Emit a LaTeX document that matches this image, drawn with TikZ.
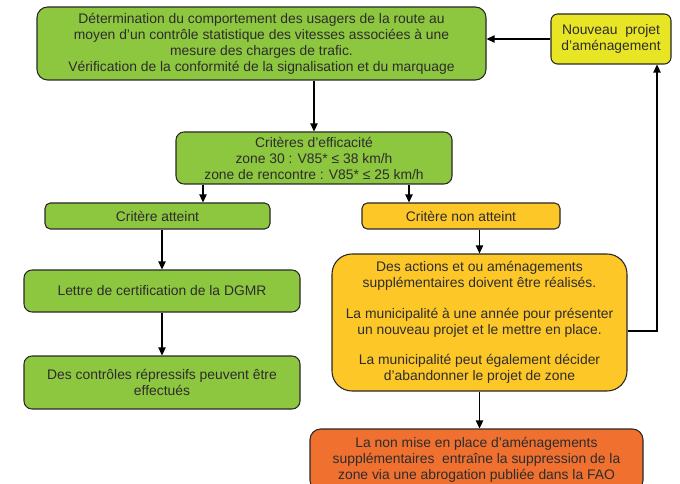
\documentclass[tikz,border=0pt]{standalone}
\usepackage{fontspec}
\setmainfont{Liberation Sans}
\usetikzlibrary{arrows.meta,calc}
\definecolor{cgreen}{RGB}{141,198,63}
\definecolor{cyel}{RGB}{232,230,36}
\definecolor{cgold}{RGB}{253,199,40}
\definecolor{corange}{RGB}{240,112,48}
\definecolor{cline}{RGB}{40,40,40}
\definecolor{ctext}{RGB}{45,45,45}
\definecolor{carrow}{RGB}{0,0,0}
\tikzset{
  box/.style={draw=cline, line width=0.8pt, rounded corners=5pt, align=center,
    inner sep=0pt, text=ctext, font=\fontsize{10.4}{12}\selectfont},
  arr/.style={carrow, line width=0.9pt, -{Triangle[length=6pt,width=5.5pt]}}
}
\begin{document}
\begin{tikzpicture}[x=0.75pt,y=-0.75pt]
\useasboundingbox (0,0) rectangle (680,484);
\node[box, fill=cgreen, rounded corners=8pt, minimum width=449*0.75pt, minimum height=73*0.75pt] (top) at (261.5,43.5)
  {Détermination du comportement des usagers de la route au\\moyen d’un contrôle statistique des vitesses associées à une\\mesure des charges de trafic.\\Vérification de la conformité de la signalisation et du marquage};
\node[box, fill=cyel, minimum width=120*0.75pt, minimum height=50*0.75pt] (nouv) at (611,39)
  {Nouveau\ \ projet\\d’aménagement};
\node[box, fill=cgreen, rounded corners=6pt, minimum width=276*0.75pt, minimum height=52*0.75pt] (crit) at (314,158)
  {Critères d’efficacité\\zone 30 : V85* ≤ 38 km/h\\zone de rencontre : V85* ≤ 25 km/h};
\node[box, fill=cgreen, rounded corners=4pt, minimum width=225*0.75pt, minimum height=26*0.75pt] (att) at (157.5,216)
  {Critère atteint};
\node[box, fill=cgold, rounded corners=4pt, minimum width=198*0.75pt, minimum height=26*0.75pt] (natt) at (461,216)
  {Critère non atteint};
\node[box, fill=cgreen, rounded corners=6pt, minimum width=276*0.75pt, minimum height=42*0.75pt] (lettre) at (162,291)
  {Lettre de certification de la DGMR};
\node[box, fill=cgreen, rounded corners=6pt, minimum width=276*0.75pt, minimum height=53*0.75pt] (ctrl) at (162,382.5)
  {Des contrôles répressifs peuvent être\\effectués};
\node[box, fill=cgold, rounded corners=15pt, minimum width=295*0.75pt, minimum height=137*0.75pt] (big) at (479.5,322.5)
  {Des actions et ou aménagements\\supplémentaires doivent être réalisés.\\[11pt]La municipalité à une année pour présenter\\un nouveau projet et le mettre en place.\\[11pt]La municipalité peut également décider\\d’abandonner le projet de zone};
\node[box, fill=corange, rounded corners=8pt, minimum width=333*0.75pt, minimum height=62*0.75pt] (orange) at (476.5,460)
  {La non mise en place d’aménagements\\supplémentaires\ \ entraîne la suppression de la\\zone via une abrogation publiée dans la FAO};
\coordinate (xa) at (203,0);
\coordinate (xn) at (409,0);
\coordinate (yb) at (0,331);
\coordinate (xu) at (657,0);
\draw[arr] (nouv.west) -- (top.east |- nouv.west);
\draw[arr] (top.south -| crit.north) -- (crit.north);
\draw[arr] (xa |- crit.south) -- (xa |- att.north);
\draw[arr] (xn |- crit.south) -- (xn |- natt.north);
\draw[arr] (att.south -| lettre.north) -- (lettre.north);
\draw[arr] (lettre.south) -- (ctrl.north);
\draw[arr] (natt.south -| big.north) -- (big.north);
\draw[arr] (big.south) -- (big.south |- orange.north);
\draw[arr] (big.east |- yb) -| (nouv.south -| xu);
\end{tikzpicture}
\end{document}
